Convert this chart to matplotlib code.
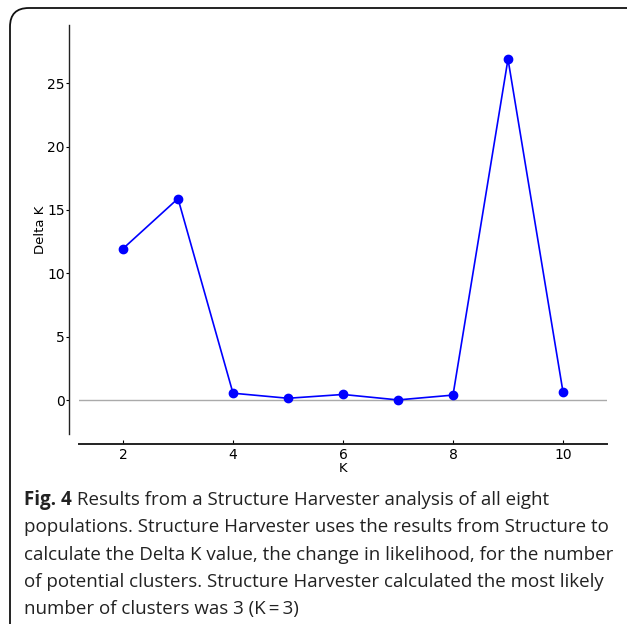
import matplotlib
matplotlib.use("Agg")
import matplotlib.pyplot as plt
from matplotlib.patches import FancyBboxPatch

k_values = [2, 3, 4, 5, 6, 7, 8, 9, 10]
delta_k = [11.95, 15.9, 0.55, 0.15, 0.45, 0.02, 0.4, 26.9, 0.65]

x_ticks = [2, 4, 6, 8, 10]
y_ticks = [0, 5, 10, 15, 20, 25]

caption_bold = "Fig. 4"
caption_lines = [
    " Results from a Structure Harvester analysis of all eight",
    "populations. Structure Harvester uses the results from Structure to",
    "calculate the Delta K value, the change in likelihood, for the number",
    "of potential clusters. Structure Harvester calculated the most likely",
    "number of clusters was 3 (K\u2009=\u20093)",
]

W, H = 627, 624
fig = plt.figure(figsize=(W / 100, H / 100), dpi=100)

# rounded frame around figure + caption, cut off on the right/bottom
frame = FancyBboxPatch((10 / W, -0.05), 1.2, 1 - 8 / H + 0.05,
                       boxstyle="round,pad=0,rounding_size=0.03",
                       transform=fig.transFigure, fill=False,
                       edgecolor="#111111", linewidth=1.3)
fig.patches.append(frame)

ax = fig.add_axes([79 / W, 1 - 434 / H, (607 - 79) / W, (434 - 25) / H])
ax.axhline(0, color="#aaaaaa", linewidth=1.0, zorder=1)
ax.plot(k_values, delta_k, color="#0000ff", linewidth=1.2,
        marker="o", markersize=6, zorder=3)

span = max(delta_k) - min(delta_k)
ax.set_xlim(1.2, 10.8)
ax.set_ylim(min(delta_k) - 0.1 * span, max(delta_k) + 0.1 * span)
ax.set_xticks(x_ticks)
ax.set_yticks(y_ticks)

for s in ["top", "right"]:
    ax.spines[s].set_visible(False)
ax.spines["left"].set_position(("outward", 7.2))
ax.spines["bottom"].set_position(("outward", 7.2))
ax.spines["left"].set_linewidth(1.0)
ax.spines["bottom"].set_linewidth(1.4)
ax.spines["left"].set_color("#222222")
ax.spines["bottom"].set_color("#222222")

ax.tick_params(axis="y", direction="out", length=2, labelsize=10, pad=1)
ax.tick_params(axis="x", direction="in", length=3, labelsize=10, pad=3)

ax.set_xlabel("K", fontsize=9.5, labelpad=0)
ax.set_ylabel("Delta K", fontsize=9.5, labelpad=0)

# caption
fs = 13.5
y0 = 1 - 500 / H
step = 27.3 / H
t = fig.text(24 / W, y0, caption_bold, fontsize=fs, fontweight="bold",
             family="Open Sans", va="center", color="#222222")
fig.canvas.draw()
bb = t.get_window_extent()
fig.text(bb.x1 / W, y0, caption_lines[0], fontsize=fs, family="Open Sans",
         va="center", color="#222222")
for i, line in enumerate(caption_lines[1:], start=1):
    fig.text(24 / W, y0 - i * step, line, fontsize=fs, family="Open Sans",
             va="center", color="#222222")

fig.savefig("out.png", dpi=100)
